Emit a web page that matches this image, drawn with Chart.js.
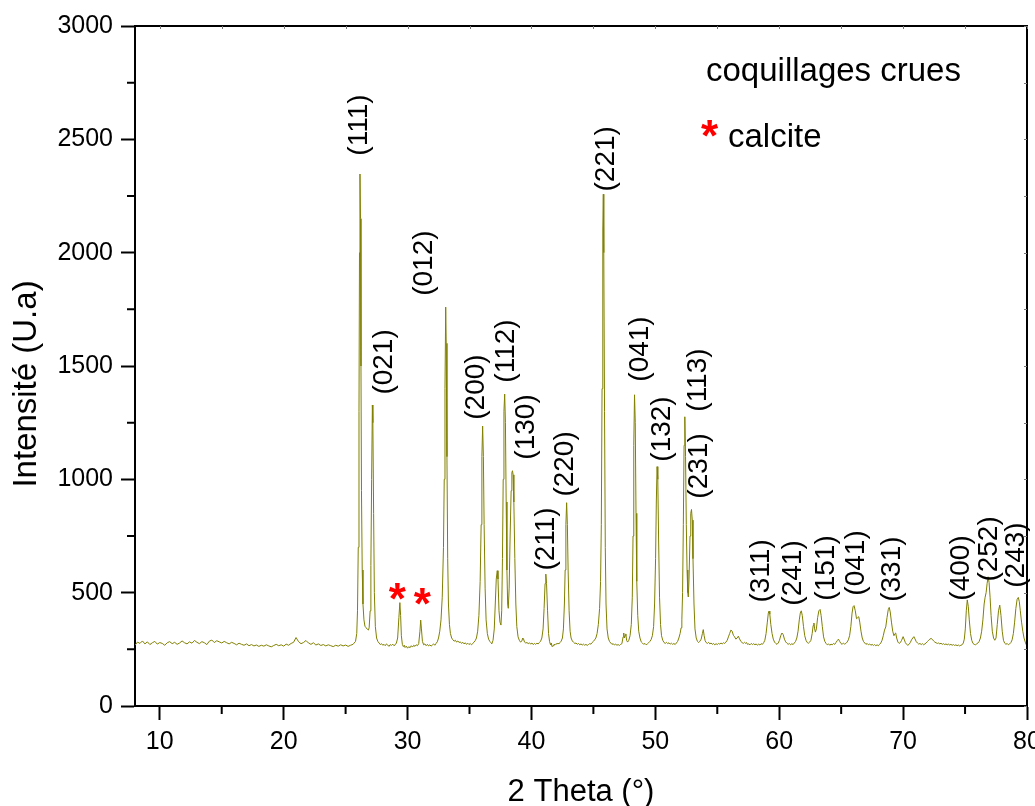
<!DOCTYPE html>
<html>
<head>
<meta charset="utf-8">
<script src="https://cdn.jsdelivr.net/npm/chart.js@4.4.0/dist/chart.umd.min.js"></script>
<style>
body{margin:0;background:#fff;}
#wrap{width:1035px;height:806px;}
</style>
</head>
<body>
<div id="wrap"><canvas id="chart" width="1035" height="806"></canvas></div>
<script>
// ================= DATA =================
// [2 theta (deg), intensity (a.u.)]
const scan=[
[8.0,268],[8.2,282],[8.4,276],[8.6,287],[8.8,274],[9.0,283],[9.2,271],[9.4,279],[9.6,285],[9.8,273],
[10.0,280],[10.2,276],[10.4,268],[10.6,279],[10.8,284],[11.0,275],[11.2,281],[11.4,272],[11.6,278],[11.8,287],
[12.0,279],[12.2,274],[12.4,283],[12.6,277],[12.8,289],[13.0,281],[13.2,275],[13.4,284],[13.6,279],[13.8,271],
[14.0,286],[14.2,291],[14.4,280],[14.6,288],[14.8,283],[15.0,278],[15.2,285],[15.4,279],[15.6,274],[15.8,281],
[16.0,276],[16.2,270],[16.4,277],[16.6,272],[16.8,268],[17.0,274],[17.2,266],[17.4,271],[17.6,265],[17.8,269],
[18.0,263],[18.2,268],[18.4,264],[18.6,270],[18.8,265],[19.0,261],[19.2,267],[19.4,272],[19.6,266],[19.8,270],
[20.0,264],[20.2,273],[20.4,268],[20.6,276],[20.8,281],[21.0,302],[21.2,284],[21.4,275],[21.6,280],[21.8,289],
[22.0,278],[22.2,272],[22.4,279],[22.6,269],[22.8,274],[23.0,267],[23.2,271],[23.4,265],[23.6,270],[23.8,266],
[24.0,262],[24.2,268],[24.4,264],[24.6,270],[24.8,265],[25.0,269],[25.2,263],[25.4,268],[25.6,272],[25.8,285],
[25.9,320],[25.96,420],[26.02,700],[26.08,1300],[26.12,2000],[26.16,2347],[26.2,2150],[26.24,1500],[26.28,950],[26.34,600],
[26.4,450],[26.48,380],[26.56,352],[26.66,345],[26.76,338],[26.84,335],[26.9,345],[26.98,420],[27.04,620],[27.1,1000],
[27.16,1328],[27.2,1250],[27.26,850],[27.32,500],[27.4,350],[27.5,300],[27.6,285],[27.7,278],[27.8,271],[27.9,275],
[28.0,268],[28.1,272],[28.2,266],[28.3,274],[28.4,269],[28.5,263],[28.6,271],[28.7,267],[28.8,273],[28.9,266],
[29.0,270],[29.1,278],[29.2,300],[29.3,390],[29.38,456],[29.44,400],[29.5,310],[29.58,272],[29.66,262],[29.74,268],
[29.8,258],[29.9,264],[30.0,255],[30.1,262],[30.2,257],[30.3,266],[30.4,260],[30.5,268],[30.6,263],[30.7,270],
[30.8,266],[30.9,275],[31.0,330],[31.06,379],[31.12,340],[31.2,285],[31.3,270],[31.4,274],[31.5,266],[31.6,272],
[31.7,265],[31.8,270],[31.9,264],[32.0,269],[32.1,274],[32.2,268],[32.3,276],[32.4,283],[32.5,300],[32.6,330],
[32.7,380],[32.8,480],[32.9,700],[32.96,1000],[33.02,1400],[33.08,1760],[33.12,1600],[33.18,1100],[33.24,650],[33.3,450],
[33.38,360],[33.46,320],[33.56,300],[33.66,292],[33.76,286],[33.86,290],[33.96,282],[34.06,287],[34.16,280],[34.26,283],
[34.36,276],[34.46,281],[34.56,274],[34.66,279],[34.76,272],[34.86,277],[34.96,271],[35.06,276],[35.16,270],[35.26,275],
[35.36,282],[35.46,288],[35.56,300],[35.66,330],[35.76,400],[35.86,550],[35.94,800],[36.0,1100],[36.06,1235],[36.12,1100],
[36.18,800],[36.26,520],[36.34,380],[36.44,320],[36.54,295],[36.64,285],[36.72,280],[36.8,274],[36.9,290],[37.0,340],
[37.08,450],[37.16,560],[37.24,597],[37.3,560],[37.38,420],[37.46,370],[37.54,357],[37.6,420],[37.66,650],[37.72,1000],
[37.78,1300],[37.84,1376],[37.9,1250],[37.96,900],[38.02,600],[38.08,450],[38.13,431],[38.2,520],[38.28,750],[38.36,950],
[38.42,1030],[38.47,1038],[38.52,1020],[38.58,900],[38.66,650],[38.74,450],[38.82,350],[38.92,305],[39.02,290],[39.12,282],
[39.22,286],[39.3,300],[39.36,296],[39.44,282],[39.54,278],[39.64,280],[39.74,275],[39.84,279],[39.94,273],[40.04,278],
[40.14,271],[40.24,276],[40.34,272],[40.44,277],[40.54,274],[40.64,280],[40.74,286],[40.84,300],[40.94,340],[41.02,430],
[41.1,540],[41.16,582],[41.22,540],[41.3,420],[41.38,320],[41.46,285],[41.54,270],[41.6,278],[41.66,262],[41.74,266],
[41.82,272],[41.9,270],[41.98,275],[42.06,273],[42.14,277],[42.22,274],[42.3,280],[42.4,286],[42.5,300],[42.58,340],
[42.66,450],[42.72,600],[42.78,800],[42.84,897],[42.9,800],[42.96,600],[43.04,420],[43.12,330],[43.2,300],[43.3,287],
[43.4,281],[43.5,276],[43.6,278],[43.7,272],[43.8,276],[43.9,270],[44.0,274],[44.1,269],[44.2,273],[44.3,268],
[44.4,272],[44.5,267],[44.6,271],[44.7,275],[44.8,273],[44.9,280],[45.0,285],[45.1,292],[45.2,300],[45.3,320],
[45.4,360],[45.5,430],[45.58,550],[45.64,800],[45.7,1400],[45.76,2100],[45.8,2258],[45.84,2000],[45.9,1300],[45.96,700],
[46.02,450],[46.1,340],[46.2,300],[46.3,285],[46.4,278],[46.5,272],[46.6,275],[46.7,269],[46.8,273],[46.9,268],
[47.0,271],[47.1,267],[47.2,272],[47.3,275],[47.4,305],[47.45,322],[47.5,300],[47.56,310],[47.62,318],[47.68,290],
[47.76,282],[47.86,290],[47.96,310],[48.06,360],[48.14,480],[48.2,750],[48.26,1150],[48.32,1373],[48.38,1250],[48.44,850],
[48.5,550],[48.58,400],[48.66,330],[48.76,300],[48.86,283],[48.96,278],[49.06,272],[49.16,276],[49.26,270],[49.36,274],
[49.46,279],[49.56,285],[49.66,293],[49.76,310],[49.86,350],[49.94,450],[50.02,650],[50.08,900],[50.14,1056],[50.2,1000],
[50.26,750],[50.34,480],[50.42,360],[50.5,310],[50.6,290],[50.7,280],[50.8,276],[50.9,281],[51.0,275],[51.1,279],
[51.2,273],[51.3,277],[51.4,272],[51.5,276],[51.6,271],[51.7,278],[51.8,285],[51.9,300],[52.0,320],[52.08,345],
[52.14,380],[52.2,500],[52.26,800],[52.32,1150],[52.38,1276],[52.44,1100],[52.5,800],[52.56,600],[52.62,500],[52.66,481],
[52.72,560],[52.8,750],[52.86,850],[52.92,867],[52.98,820],[53.04,650],[53.12,450],[53.2,340],[53.3,300],[53.4,285],
[53.5,280],[53.6,286],[53.7,295],[53.8,320],[53.87,337],[53.94,310],[54.02,288],[54.1,280],[54.2,276],[54.3,281],
[54.4,274],[54.5,278],[54.6,272],[54.7,276],[54.8,270],[54.9,275],[55.0,271],[55.1,276],[55.2,273],[55.3,278],
[55.4,274],[55.5,279],[55.6,276],[55.7,282],[55.8,290],[55.9,305],[56.0,320],[56.1,335],[56.2,330],[56.3,312],
[56.4,305],[56.5,295],[56.6,300],[56.7,308],[56.8,296],[56.9,285],[57.0,280],[57.1,276],[57.2,281],[57.3,276],
[57.36,280],[57.44,272],[57.54,274],[57.64,270],[57.74,276],[57.84,271],[57.94,275],[58.04,270],[58.14,274],[58.24,268],
[58.34,273],[58.44,269],[58.54,275],[58.64,272],[58.74,279],[58.84,290],[58.94,320],[59.04,370],[59.12,410],[59.18,419],
[59.24,405],[59.32,360],[59.42,320],[59.52,295],[59.62,282],[59.72,276],[59.82,272],[59.92,278],[60.02,290],[60.12,310],
[60.22,322],[60.32,315],[60.42,295],[60.52,283],[60.62,277],[60.72,272],[60.82,276],[60.92,270],[61.02,275],[61.12,271],
[61.22,278],[61.32,285],[61.42,300],[61.52,330],[61.62,380],[61.7,410],[61.78,420],[61.86,400],[61.96,350],[62.06,310],
[62.16,290],[62.26,280],[62.36,277],[62.46,282],[62.56,290],[62.66,320],[62.74,355],[62.8,366],[62.86,340],[62.92,326],
[63.0,340],[63.1,390],[63.2,420],[63.3,426],[63.38,400],[63.48,350],[63.58,305],[63.68,285],[63.78,276],[63.88,270],
[63.98,274],[64.08,268],[64.18,273],[64.28,270],[64.38,276],[64.48,272],[64.58,280],[64.68,288],[64.78,295],[64.88,285],
[64.98,276],[65.08,272],[65.18,278],[65.28,273],[65.38,276],[65.48,282],[65.58,292],[65.68,310],[65.78,350],[65.88,410],
[65.96,438],[66.04,443],[66.14,420],[66.24,385],[66.34,390],[66.42,394],[66.5,370],[66.6,330],[66.7,300],[66.8,285],
[66.9,278],[67.0,272],[67.1,276],[67.2,270],[67.3,274],[67.4,268],[67.5,272],[67.6,267],[67.7,271],[67.8,266],
[67.9,270],[68.0,266],[68.1,272],[68.2,278],[68.3,290],[68.4,310],[68.5,335],[68.6,349],[68.7,390],[68.8,425],
[68.88,435],[68.96,415],[69.06,370],[69.16,330],[69.26,310],[69.32,318],[69.4,322],[69.48,300],[69.58,282],[69.68,276],
[69.78,280],[69.88,290],[70.0,306],[70.08,295],[70.18,280],[70.28,272],[70.38,268],[70.48,272],[70.58,280],[70.68,292],
[70.78,300],[70.87,306],[70.96,296],[71.06,284],[71.16,278],[71.26,273],[71.36,276],[71.46,271],[71.56,275],[71.66,270],
[71.76,274],[71.86,278],[71.96,284],[72.06,290],[72.16,295],[72.26,298],[72.36,294],[72.46,287],[72.56,282],[72.66,279],
[72.76,276],[72.86,278],[72.96,274],[73.06,277],[73.16,272],[73.26,275],[73.36,271],[73.46,274],[73.56,270],[73.66,273],
[73.76,269],[73.86,272],[73.96,268],[74.06,271],[74.16,267],[74.26,270],[74.36,266],[74.46,269],[74.56,265],[74.66,268],
[74.76,270],[74.86,278],[74.94,295],[75.02,340],[75.1,420],[75.18,468],[75.26,440],[75.34,380],[75.44,320],[75.54,290],
[75.64,276],[75.74,272],[75.84,270],[75.94,274],[76.04,278],[76.14,285],[76.24,300],[76.34,330],[76.44,380],[76.54,450],
[76.62,480],[76.7,500],[76.78,540],[76.86,570],[76.94,545],[77.02,480],[77.1,400],[77.2,330],[77.3,300],[77.4,290],
[77.5,300],[77.6,360],[77.7,420],[77.8,445],[77.9,400],[78.0,330],[78.1,290],[78.2,277],[78.3,272],[78.4,276],
[78.5,270],[78.6,274],[78.7,280],[78.8,292],[78.9,320],[79.0,370],[79.1,430],[79.2,470],[79.3,479],[79.38,460],
[79.46,420],[79.56,370],[79.66,330],[79.76,300],[79.86,282],[79.94,270],[80.0,269]
];

// peak indexing (hkl) and where each label sits, in data units (centre of the rotated text)
const hkl=["(111)","(021)","(012)","(200)","(112)","(130)","(211)","(220)","(221)","(041)","(132)","(113)","(231)",
"(311)","(241)","(151)","(041)","(331)","(400)","(252)","(243)"];
const hklX=[26.14,28.16,31.39,35.57,37.99,39.60,41.22,42.70,46.05,48.76,50.53,53.44,53.52,
58.53,61.12,63.78,66.21,69.16,74.73,76.95,79.13];
const hklY=[2563,1518,1954,1407,1566,1231,737,1068,2414,1575,1222,1438,1059,
596,587,609,631,604,609,693,666];

// calcite reflections marked with *
const calciteX=[29.21,31.23];
const calciteY=[507,485];

const xTitle="2 Theta (°)";
const yTitle="Intensité (U.a)";
const sampleName="coquillages crues";
const calciteName="calcite";

const FONT="'Liberation Sans', Arial, Helvetica, sans-serif";

// ================= DECORATION PLUGIN =================
function drawStar(ctx,cx,cy,size){
ctx.font="bold "+size+"px "+FONT;
ctx.textAlign="left";
ctx.textBaseline="alphabetic";
let m=ctx.measureText("*");
let w=m.actualBoundingBoxRight+m.actualBoundingBoxLeft;
let h=m.actualBoundingBoxAscent+m.actualBoundingBoxDescent;
ctx.fillText("*",cx-w/2+m.actualBoundingBoxLeft,cy+h/2-m.actualBoundingBoxDescent);
}

const decorations={
id:"decorations",
afterDraw(chart){
let ctx=chart.ctx,a=chart.chartArea,xs=chart.scales.x,ys=chart.scales.y;
ctx.save();

// frame: top + right
ctx.strokeStyle="#000";
ctx.lineWidth=2;
ctx.beginPath();
ctx.moveTo(a.left,a.top);
ctx.lineTo(a.right,a.top);
ctx.lineTo(a.right,a.bottom);
ctx.stroke();

// minor ticks (outside)
ctx.beginPath();
xs.ticks.forEach(t=>{
if(t.value%10!==0){
let px=xs.getPixelForValue(t.value);
ctx.moveTo(px,a.bottom);ctx.lineTo(px,a.bottom+8);
}
});
ys.ticks.forEach(t=>{
if(t.value%500!==0){
let py=ys.getPixelForValue(t.value);
ctx.moveTo(a.left,py);ctx.lineTo(a.left-8,py);
}
});
ctx.stroke();

// faint inner ticks on top / right edges
ctx.strokeStyle="#777";
ctx.lineWidth=1;
ctx.beginPath();
xs.ticks.forEach(t=>{
let px=Math.round(xs.getPixelForValue(t.value))+0.5;
ctx.moveTo(px,a.top);ctx.lineTo(px,a.top+3);
});
ys.ticks.forEach(t=>{
let py=Math.round(ys.getPixelForValue(t.value))+0.5;
ctx.moveTo(a.right,py);ctx.lineTo(a.right-3,py);
});
ctx.stroke();

// axis titles
ctx.fillStyle="#000";
ctx.font="31px "+FONT;
ctx.textAlign="center";
ctx.textBaseline="alphabetic";
ctx.fillText(xTitle,(a.left+a.right)/2,801);
ctx.save();
ctx.font="33px "+FONT;
ctx.translate(27,384);
ctx.rotate(-Math.PI/2);
ctx.textBaseline="middle";
ctx.fillText(yTitle,0,0);
ctx.restore();

// hkl labels
ctx.font="28px "+FONT;
ctx.textAlign="center";
ctx.textBaseline="middle";
hkl.forEach((h,i)=>{
ctx.save();
ctx.translate(xs.getPixelForValue(hklX[i]),ys.getPixelForValue(hklY[i]));
ctx.rotate(-Math.PI/2);
ctx.fillText(h,0,0);
ctx.restore();
});

// calcite stars on the pattern
ctx.fillStyle="#ff0000";
calciteX.forEach((x,i)=>{
drawStar(ctx,xs.getPixelForValue(x),ys.getPixelForValue(calciteY[i]),44);
});

// legend block
ctx.fillStyle="#000";
ctx.font="33px "+FONT;
ctx.textAlign="left";
ctx.textBaseline="alphabetic";
ctx.fillText(sampleName,706,81);
ctx.fillText(calciteName,728,147);
ctx.fillStyle="#ff0000";
drawStar(ctx,710,128,44);

ctx.restore();
}
};

// ================= CHART =================
let ctx=document.getElementById("chart").getContext("2d");
let chart=new Chart(ctx,{
type:"line",
data:{
datasets:[{
label:sampleName,
data:scan.map(p=>({x:p[0],y:p[1]})),
borderColor:"#808000",
borderWidth:1,
pointRadius:0,
tension:0,
fill:false
}]
},
options:{
responsive:false,
animation:false,
events:[],
layout:{padding:{top:26,right:8,left:0,bottom:0}},
plugins:{legend:{display:false},tooltip:{enabled:false}},
scales:{
x:{
type:"linear",
min:8,max:80,
afterBuildTicks:s=>{s.ticks=s.ticks.filter(t=>t.value%5===0);},
afterFit:s=>{s.height=100;s.paddingLeft=0;s.paddingRight=0;},
ticks:{
stepSize:5,autoSkip:false,maxRotation:0,padding:7,color:"#000",
font:{family:FONT,size:25},
callback:v=>v%10===0?String(v):""
},
grid:{
drawOnChartArea:false,drawTicks:true,tickLength:14,tickWidth:2,
tickColor:c=>c.tick&&c.tick.value%10===0?"#000":"rgba(0,0,0,0)"
},
border:{display:true,color:"#000",width:2}
},
y:{
min:0,max:3000,
afterBuildTicks:s=>{s.ticks=s.ticks.filter(t=>t.value%250===0);},
afterFit:s=>{s.width=135;s.paddingTop=0;s.paddingBottom=0;},
ticks:{
stepSize:250,autoSkip:false,padding:8,color:"#000",
font:{family:FONT,size:25},
callback:v=>v%500===0?String(v):""
},
grid:{
drawOnChartArea:false,drawTicks:true,tickLength:14,tickWidth:2,
tickColor:c=>c.tick&&c.tick.value%500===0?"#000":"rgba(0,0,0,0)"
},
border:{display:true,color:"#000",width:2}
}
}
},
plugins:[decorations]
});
</script>
</body>
</html>
